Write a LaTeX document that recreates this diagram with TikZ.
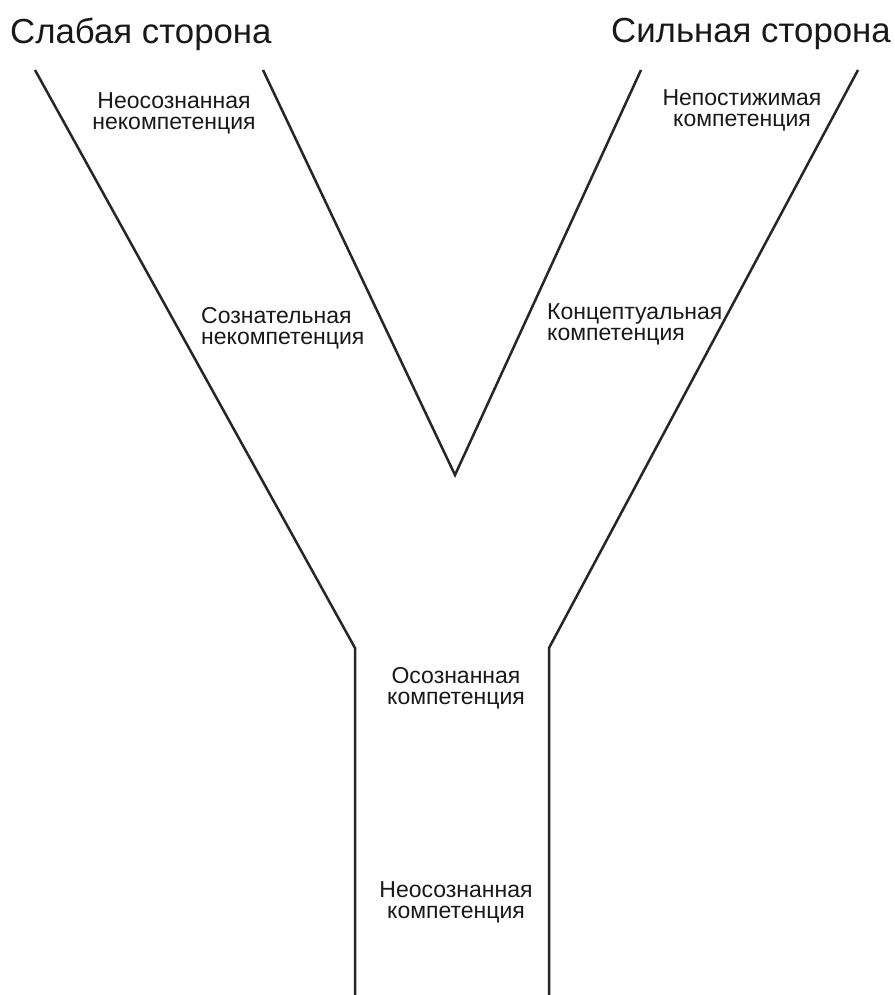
\documentclass[tikz,border=0pt]{standalone}
\usepackage{fontspec}
\setmainfont{Liberation Sans}
\begin{document}
\begin{tikzpicture}[x=1pt,y=-1pt,
  wall/.style={draw=black!85,line width=2.5pt,line join=miter},
  title/.style={font=\fontsize{34.8}{40}\selectfont,inner sep=0pt,text=black!90},
  lab/.style={font=\fontsize{23}{21}\selectfont,inner sep=0pt,text=black!90}]
\fill[white] (0,0) rectangle (894,995);
\useasboundingbox (0,0) rectangle (894,995);
% structure points
\coordinate (lt) at (35,70);
\coordinate (lk) at (355,648);
\coordinate (lb) at (355,1000);
\coordinate (it) at (263,70);
\coordinate (ap) at (455,475);
\coordinate (jt) at (641,70);
\coordinate (rt) at (858,70);
\coordinate (rk) at (549,648);
\coordinate (rb) at (549,1000);
\draw[wall] (lt) -- (lk) -- (lb);
\draw[wall] (it) -- (ap) -- (jt);
\draw[wall] (rt) -- (rk) -- (rb);
% titles
\node[title,anchor=base west] (tw) at (10,44) {Слабая сторона};
\node[title,anchor=base east] (ts) at (891,43) {Сильная сторона};
% labels
\node[lab,align=center] (l1) at (174,113) {Неосознанная\\некомпетенция};
\node[lab,align=center] (l2) at (742,110) {Непостижимая\\компетенция};
\node[lab,align=left,anchor=west] (l3) at (201,328) {Сознательная\\некомпетенция};
\node[lab,align=left,anchor=west] (l4) at (547,324) {Концептуальная\\компетенция};
\node[lab,align=center] (l5) at (456,688) {Осознанная\\компетенция};
\node[lab,align=center] (l6) at (456,902) {Неосознанная\\компетенция};
\end{tikzpicture}
\end{document}
